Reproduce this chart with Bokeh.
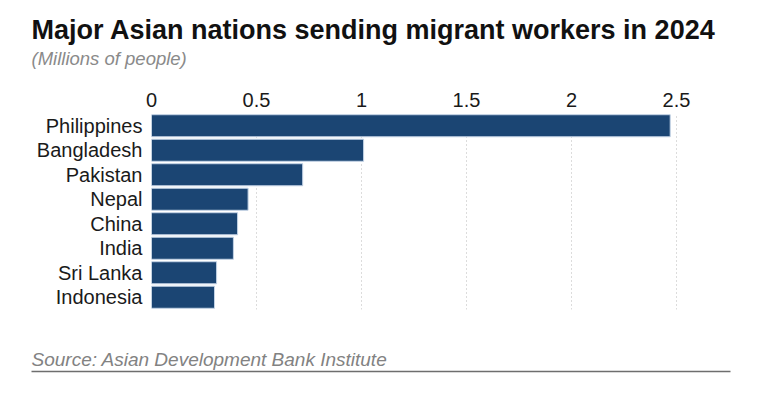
from bokeh.plotting import figure
from bokeh.layouts import column
from bokeh.models import ColumnDataSource, FactorRange, Range1d, FixedTicker
from bokeh.core.properties import value
from bokeh.embed import file_html
from bokeh.resources import INLINE

# ---- data ----
countries = ["Philippines", "Bangladesh", "Pakistan", "Nepal",
             "China", "India", "Sri Lanka", "Indonesia"]
workers_millions = [2.47, 1.01, 0.72, 0.46, 0.41, 0.39, 0.31, 0.30]
tick_values = [0, 0.5, 1, 1.5, 2, 2.5]
tick_labels = ["0", "0.5", "1", "1.5", "2", "2.5"]

title_text = "Major Asian nations sending migrant workers in 2024"
subtitle_text = "(Millions of people)"
source_text = "Source: Asian Development Bank Institute"

FONT = "Liberation Sans"
W = 752


def blank_panel(h):
    f = figure(width=W, height=h, output_backend="svg", toolbar_location=None,
               x_range=Range1d(0, W), y_range=Range1d(h, 0),
               min_border=0, min_border_left=0, min_border_right=0,
               min_border_top=0, min_border_bottom=0)
    f.axis.visible = False
    f.grid.visible = False
    f.outline_line_color = None
    f.background_fill_color = "white"
    f.border_fill_color = "white"
    f.frame_align = False
    return f


# ---- header (title + subtitle) ----
HEADER_H = 84
header = blank_panel(HEADER_H)
header.text(x=[31], y=[29], text=[title_text], text_font=value(FONT),
            text_font_size=value("27px"), text_font_style="bold",
            text_color="#111111", text_baseline="middle")
header.text(x=[31], y=[58], text=[subtitle_text], text_font=value(FONT),
            text_font_size=value("18.5px"), text_font_style="italic",
            text_color="#8a8a8a", text_baseline="middle")

# ---- main bar chart ----
src = ColumnDataSource(dict(country=countries, value=workers_millions))

p = figure(width=W, height=230, output_backend="svg", toolbar_location=None,
           y_range=FactorRange(factors=list(reversed(countries))),
           x_range=Range1d(0, 2.6), x_axis_location="above",
           min_border_left=151, min_border_right=55,
           min_border_top=29, min_border_bottom=5)
p.outline_line_color = None
p.background_fill_color = "white"
p.border_fill_color = "white"
p.frame_align = False

p.hbar(y="country", right="value", left=0, height=0.9, source=src,
       fill_color="#1b4573", line_color="#c3d3e6", line_width=1)

xa = p.xaxis[0]
xa.ticker = FixedTicker(ticks=tick_values)
xa.major_label_overrides = {v: l for v, l in zip(tick_values, tick_labels)}
xa.axis_line_color = None
xa.major_tick_line_color = None
xa.major_tick_out = 0
xa.minor_tick_line_color = None
xa.major_label_text_font = FONT
xa.major_label_text_font_size = "20px"
xa.major_label_text_color = "#1a1a1a"
xa.major_label_standoff = 7

ya = p.yaxis[0]
ya.axis_line_color = None
ya.major_tick_line_color = None
ya.major_tick_out = 0
ya.minor_tick_line_color = None
ya.major_label_text_font = FONT
ya.major_label_text_font_size = "20px"
ya.major_label_text_color = "#1a1a1a"
ya.major_label_standoff = 9

p.ygrid.grid_line_color = None
p.xgrid.grid_line_color = "#b8b8b8"
p.xgrid.grid_line_dash = "1 3"
p.xgrid.grid_line_width = 1

# ---- footer (source + rule) ----
FOOTER_H = 70
footer = blank_panel(FOOTER_H)
footer.text(x=[31], y=[44.5], text=[source_text], text_font=value(FONT),
            text_font_size=value("19px"), text_font_style="italic",
            text_color="#828282", text_baseline="middle")
footer.line(x=[31, 730], y=[57, 57], line_color="#6e6e6e", line_width=1.5)

layout = column(header, p, footer, spacing=0)
open("out.html", "w").write(file_html(layout, INLINE))
